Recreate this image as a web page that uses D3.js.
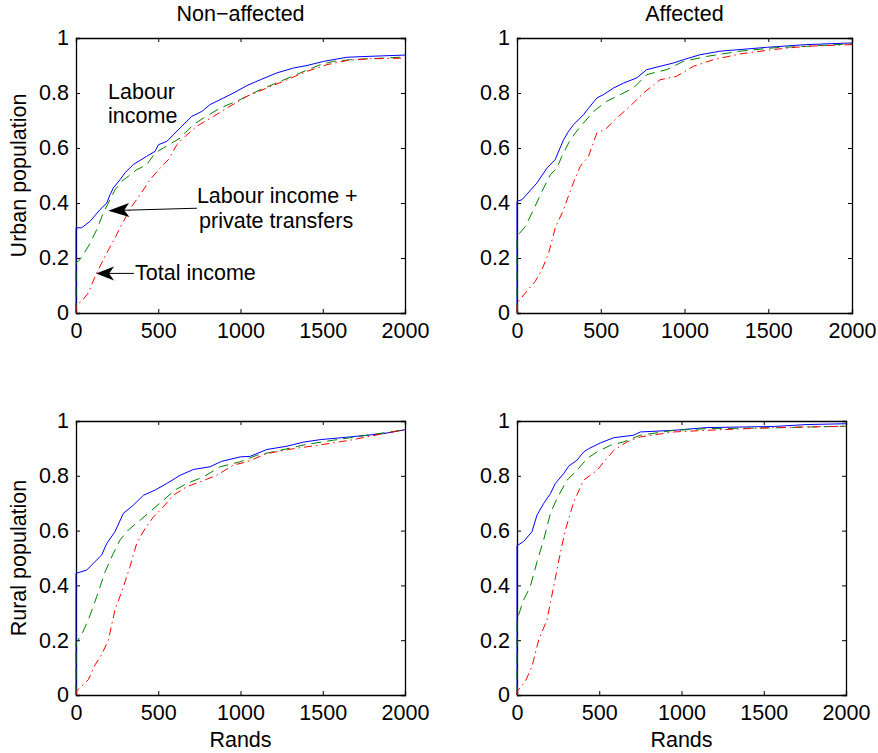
<!DOCTYPE html>
<html>
<head>
<meta charset="utf-8">
<script src="https://cdn.jsdelivr.net/npm/d3@7"></script>
<style>
  body { margin: 0; background: #fff; }
  text { font-family: "Liberation Sans", Arial, sans-serif; fill: #000; }
</style>
</head>
<body>
<div id="main"></div>
<script>
// tick values and labels
var xTicks = [0, 500, 1000, 1500, 2000];
var yTicks = [0, 0.2, 0.4, 0.6, 0.8, 1];
var colTitles = ["Non\u2212affected", "Affected"];
var rowTitles = ["Urban population", "Rural population"];
var xLabel = "Rands";

// cumulative share of population below income (Rands)
// urban, non-affected
var urbNonLabour = [[0,0],[0,0.31],[34,0.31],[85,0.333],[146,0.376],[187,0.40],[207,0.43],[227,0.455],[268,0.485],[298,0.51],[349,0.54],[430,0.57],[481,0.588],[501,0.612],[552,0.624],[592,0.648],[643,0.679],[704,0.715],[765,0.733],[815,0.758],[897,0.782],[957,0.80],[1039,0.827],[1120,0.848],[1221,0.873],[1323,0.891],[1404,0.90],[1505,0.915],[1647,0.93],[1769,0.933],[2000,0.938]];
var urbNonPrivate = [[0,0],[0,0.182],[24,0.194],[75,0.242],[126,0.303],[166,0.364],[197,0.40],[237,0.448],[278,0.479],[318,0.497],[369,0.521],[430,0.539],[481,0.582],[531,0.60],[633,0.636],[714,0.685],[775,0.709],[876,0.745],[998,0.776],[1120,0.812],[1241,0.842],[1363,0.873],[1485,0.903],[1566,0.915],[1668,0.921],[1870,0.927],[2000,0.931]];
var urbNonTotal = [[0,0],[0,0.03],[34,0.042],[75,0.073],[116,0.133],[146,0.17],[187,0.218],[237,0.273],[288,0.333],[339,0.388],[390,0.43],[450,0.485],[511,0.527],[562,0.558],[613,0.612],[663,0.642],[734,0.679],[836,0.715],[917,0.745],[1039,0.788],[1160,0.818],[1282,0.848],[1404,0.879],[1526,0.903],[1647,0.918],[1769,0.924],[2000,0.927]];
// urban, affected
var urbAffLabour = [[0,0],[0,0.406],[30,0.412],[119,0.473],[179,0.527],[228,0.558],[278,0.63],[308,0.661],[338,0.685],[397,0.721],[427,0.745],[477,0.782],[516,0.794],[576,0.818],[636,0.836],[715,0.855],[775,0.885],[854,0.897],[933,0.909],[993,0.921],[1092,0.939],[1211,0.952],[1331,0.958],[1490,0.966],[1728,0.976],[2000,0.982]];
var urbAffPrivate = [[0,0],[0,0.279],[50,0.315],[99,0.376],[149,0.442],[199,0.503],[238,0.527],[268,0.57],[308,0.618],[348,0.655],[397,0.691],[457,0.733],[536,0.77],[616,0.794],[695,0.818],[775,0.867],[894,0.885],[993,0.915],[1132,0.933],[1331,0.952],[1529,0.964],[1728,0.97],[2000,0.979]];
var urbAffTotal = [[0,0],[0,0.036],[50,0.073],[109,0.115],[149,0.158],[189,0.218],[228,0.309],[278,0.376],[328,0.461],[377,0.533],[427,0.57],[477,0.655],[526,0.667],[596,0.709],[675,0.752],[755,0.80],[854,0.848],[953,0.861],[1053,0.897],[1172,0.921],[1331,0.942],[1529,0.958],[1728,0.97],[2000,0.976]];
// rural, non-affected
var rurNonLabour = [[0,0],[0,0.444],[65,0.456],[116,0.487],[156,0.511],[187,0.553],[237,0.596],[288,0.663],[349,0.693],[410,0.729],[481,0.748],[552,0.772],[633,0.802],[714,0.823],[815,0.833],[886,0.853],[998,0.869],[1059,0.871],[1160,0.896],[1282,0.908],[1383,0.923],[1485,0.932],[1667,0.942],[1870,0.954],[2000,0.968]];
var rurNonPrivate = [[0,0],[0,0.189],[34,0.22],[75,0.274],[126,0.359],[177,0.45],[227,0.517],[268,0.566],[318,0.602],[390,0.638],[450,0.669],[531,0.711],[602,0.748],[673,0.772],[775,0.796],[876,0.833],[998,0.851],[1099,0.875],[1241,0.893],[1404,0.915],[1566,0.93],[1769,0.948],[2000,0.968]];
var rurNonTotal = [[0,0],[0,0.013],[34,0.032],[75,0.056],[116,0.11],[156,0.147],[197,0.201],[237,0.311],[278,0.377],[328,0.468],[369,0.553],[420,0.608],[471,0.65],[531,0.687],[592,0.729],[673,0.76],[755,0.778],[856,0.802],[957,0.839],[1039,0.851],[1160,0.881],[1323,0.899],[1465,0.911],[1667,0.93],[1870,0.954],[2000,0.968]];
// rural, affected
var rurAffLabour = [[0,0],[0,0.545],[40,0.56],[91,0.596],[122,0.657],[162,0.699],[203,0.735],[233,0.772],[284,0.808],[314,0.835],[365,0.857],[405,0.887],[436,0.899],[507,0.92],[588,0.939],[709,0.948],[750,0.96],[952,0.966],[1155,0.976],[1560,0.98],[1763,0.987],[2000,0.99]];
var rurAffPrivate = [[0,0],[0,0.274],[40,0.347],[81,0.396],[122,0.487],[162,0.566],[203,0.663],[243,0.717],[304,0.784],[365,0.82],[426,0.863],[486,0.887],[567,0.911],[648,0.924],[750,0.948],[952,0.966],[1155,0.972],[1560,0.975],[2000,0.981]];
var rurAffTotal = [[0,0],[0,0.013],[51,0.05],[91,0.104],[132,0.201],[182,0.274],[223,0.396],[263,0.517],[294,0.602],[345,0.705],[405,0.784],[486,0.82],[588,0.893],[669,0.924],[750,0.942],[952,0.96],[1155,0.966],[1560,0.976],[2000,0.981]];

var seriesStyle = [
  { color: "#0000ff", dash: null },
  { color: "#008000", dash: "10,6" },
  { color: "#ff0000", dash: "8,4,1.5,4" }
];

var panels = [
  { row: 0, col: 0, box: [76, 405, 38, 313], lines: [urbNonLabour, urbNonPrivate, urbNonTotal] },
  { row: 0, col: 1, box: [517, 852, 38, 313], lines: [urbAffLabour, urbAffPrivate, urbAffTotal] },
  { row: 1, col: 0, box: [76, 405, 421, 695], lines: [rurNonLabour, rurNonPrivate, rurNonTotal] },
  { row: 1, col: 1, box: [517, 846, 421, 695], lines: [rurAffLabour, rurAffPrivate, rurAffTotal] }
];

var svg = d3.select("#main").append("svg")
  .attr("width", 878)
  .attr("height", 753);

var fs = 21.5;
var tickLen = 4;

panels.forEach(function(p) {
  var x = d3.scaleLinear().domain([0, 2000]).range([p.box[0], p.box[1]]);
  var y = d3.scaleLinear().domain([0, 1]).range([p.box[3], p.box[2]]);
  var g = svg.append("g");

  // inward ticks on all four sides, box
  var bottomAx = d3.axisBottom(x).tickValues(xTicks).tickSize(-tickLen).tickPadding(8)
    .tickFormat(d3.format("d"));
  var topAx = d3.axisTop(x).tickValues(xTicks).tickSize(-tickLen).tickFormat("");
  var leftAx = d3.axisLeft(y).tickValues(yTicks).tickSize(-tickLen).tickPadding(7)
    .tickFormat(function(d) { return d === 0 || d === 1 ? d3.format("d")(d) : d3.format(".1f")(d); });
  var rightAx = d3.axisRight(y).tickValues(yTicks).tickSize(-tickLen).tickFormat("");

  g.append("g").attr("transform", "translate(0," + p.box[3] + ")").call(bottomAx);
  g.append("g").attr("transform", "translate(0," + p.box[2] + ")").call(topAx);
  g.append("g").attr("transform", "translate(" + p.box[0] + ",0)").call(leftAx);
  g.append("g").attr("transform", "translate(" + p.box[1] + ",0)").call(rightAx);

  g.selectAll(".domain").attr("stroke", "#000").attr("stroke-width", 1.3);
  g.selectAll(".tick line").attr("stroke", "#000").attr("stroke-width", 1);
  g.selectAll(".tick text")
    .attr("font-family", "'Liberation Sans', Arial, sans-serif")
    .attr("font-size", fs)
    .attr("fill", "#000");
  g.selectAll(".tick text").filter(function() { return this.getAttribute("dy") === "0.71em"; })
    .attr("dy", "0.78em");

  // curves: labour, labour + private, total
  var line = d3.line()
    .x(function(d) { return x(d[0]); })
    .y(function(d) { return y(d[1]); });

  p.lines.forEach(function(s, i) {
    g.append("path")
      .datum(s)
      .attr("fill", "none")
      .attr("stroke", seriesStyle[i].color)
      .attr("stroke-width", 1)
      .attr("stroke-dasharray", seriesStyle[i].dash)
      .attr("d", line);
  });

  if (p.row === 0) {
    svg.append("text")
      .attr("x", (p.box[0] + p.box[1]) / 2)
      .attr("y", 21)
      .attr("text-anchor", "middle")
      .attr("font-size", fs)
      .text(colTitles[p.col]);
  } else {
    svg.append("text")
      .attr("x", (p.box[0] + p.box[1]) / 2)
      .attr("y", 747)
      .attr("text-anchor", "middle")
      .attr("font-size", fs)
      .text(xLabel);
  }
  if (p.col === 0) {
    var cy = (p.box[2] + p.box[3]) / 2;
    svg.append("text")
      .attr("transform", "translate(26," + cy + ") rotate(-90)")
      .attr("text-anchor", "middle")
      .attr("font-size", fs)
      .text(rowTitles[p.row]);
  }

  // annotations only on the first panel
  if (p.row === 0 && p.col === 0) {
    var ann = g.append("g").attr("font-size", fs);
    ann.append("text").attr("x", x(195)).attr("y", y(0.778)).text("Labour");
    ann.append("text").attr("x", x(195)).attr("y", y(0.691)).text("income");
    ann.append("text").attr("x", x(735)).attr("y", y(0.40)).text("Labour income +");
    ann.append("text").attr("x", x(748)).attr("y", y(0.309)).text("private transfers");
    ann.append("text").attr("x", x(359)).attr("y", y(0.12)).text("Total income");

    var arrows = [
      { from: [735, 0.381], to: [196, 0.372], len: 21, half: 7, notch: 5 },
      { from: [352, 0.144], to: [122, 0.144], len: 18, half: 7, notch: 5 }
    ];
    arrows.forEach(function(a) {
      var x1 = x(a.from[0]), y1 = y(a.from[1]), x2 = x(a.to[0]), y2 = y(a.to[1]);
      var ang = Math.atan2(y1 - y2, x1 - x2) * 180 / Math.PI;
      ann.append("line")
        .attr("x1", x1).attr("y1", y1)
        .attr("x2", x2 + (x1 - x2) * 0.1).attr("y2", y2 + (y1 - y2) * 0.1)
        .attr("stroke", "#000").attr("stroke-width", 1);
      ann.append("path")
        .attr("transform", "translate(" + x2 + "," + y2 + ") rotate(" + ang + ")")
        .attr("d", "M0,0L" + a.len + "," + (-a.half) + "L" + (a.len - a.notch) + ",0L" + a.len + "," + a.half + "Z")
        .attr("fill", "#000");
    });
  }
});
</script>
</body>
</html>
